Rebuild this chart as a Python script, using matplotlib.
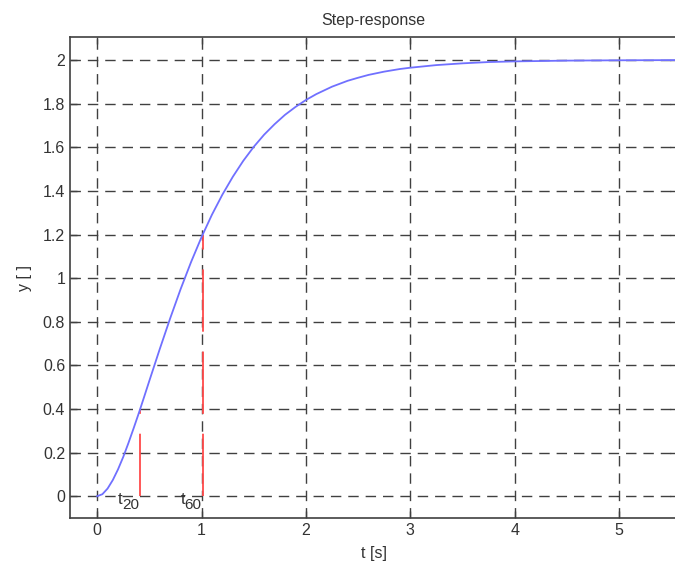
import matplotlib.pyplot as plt
from matplotlib.ticker import FormatStrFormatter

# step response
t = [0, 0.05, 0.1, 0.15, 0.2, 0.25, 0.3, 0.35, 0.4, 0.45, 0.5, 0.6, 0.7, 0.8,
     0.9, 1.0, 1.1, 1.2, 1.3, 1.4, 1.5, 1.6, 1.7, 1.8, 1.9, 2.0, 2.1, 2.25,
     2.4, 2.5, 2.6, 2.75, 2.9, 3.0, 3.25, 3.5, 3.75, 4.0, 4.5, 5.0, 5.6]
y = [0, 0.009, 0.035, 0.074, 0.123, 0.180, 0.244, 0.312, 0.382, 0.455, 0.529,
     0.675, 0.816, 0.950, 1.074, 1.188, 1.291, 1.383, 1.465, 1.538, 1.602,
     1.658, 1.706, 1.749, 1.785, 1.817, 1.844, 1.878, 1.905, 1.919, 1.932,
     1.947, 1.959, 1.965, 1.977, 1.985, 1.991, 1.994, 1.9975, 1.999, 2.0]

# marker times and their levels
t_marks = [0.41, 1.01]
y_marks = [0.4, 1.2]
mark_subs = ['20', '60']

x_ticks = [0, 1, 2, 3, 4, 5]
y_ticks = [0, 0.2, 0.4, 0.6, 0.8, 1, 1.2, 1.4, 1.6, 1.8, 2]

plt.rcParams['font.family'] = ['Liberation Sans', 'DejaVu Sans']
txt = '#333333'

fig = plt.figure(figsize=(6.75, 5.72), dpi=100)
ax = fig.add_axes([0.1037, 0.0944, 0.9, 0.8406])

ax.plot(t, y, color='#7070ff', lw=1.3, zorder=3)

for tm, ym, sub in zip(t_marks, y_marks, mark_subs):
    ln, = ax.plot([tm, tm], [0, ym], color='#ff4a4a', lw=1.3, zorder=2)
    ln.set_dashes([34.5, 11])
    ax.annotate('t', xy=(tm, 0), xytext=(-16, 3), textcoords='offset points',
                ha='left', va='top', fontsize=12, color=txt)
    ax.annotate(sub, xy=(tm, 0), xytext=(-13, -1.5), textcoords='offset points',
                ha='left', va='top', fontsize=11, color=txt)

ax.set_xlim(-0.26, 5.56)
ax.set_ylim(-0.1, 2.105)
ax.set_xticks(x_ticks)
ax.set_yticks(y_ticks)
ax.yaxis.set_major_formatter(FormatStrFormatter('%g'))

ax.grid(True, color='#404040', linestyle=(0, (7.5, 5)), lw=1.0)
ax.tick_params(direction='in', length=5, width=1, color='#404040',
               labelsize=11.5, labelcolor=txt, top=True, right=True)
for s in ax.spines.values():
    s.set_color('#404040')
    s.set_linewidth(1.2)

ax.set_title('Step-response', fontsize=11.5, color=txt, pad=9)
ax.set_xlabel('t [s]', fontsize=11.5, color=txt, labelpad=6)
ax.set_ylabel('y [ ]', fontsize=11.5, color=txt, labelpad=8)

fig.savefig('out.png', dpi=100)
